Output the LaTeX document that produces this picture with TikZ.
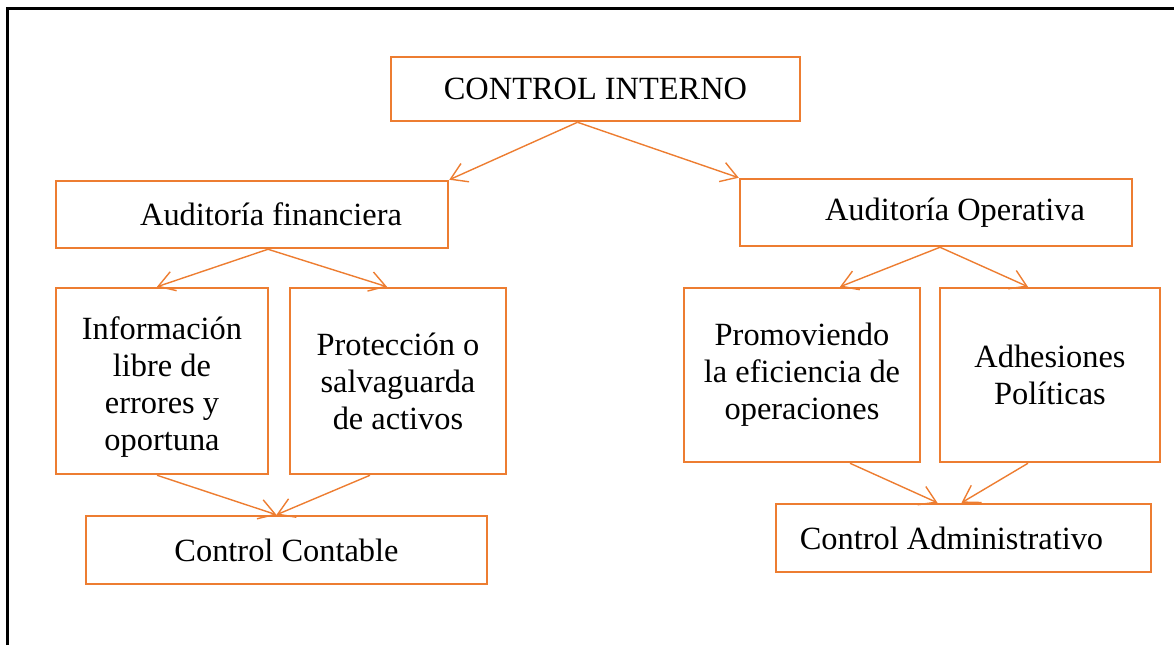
\documentclass[tikz,border=0pt]{standalone}
\usepackage{fontspec}
\setmainfont{Liberation Serif}
\usetikzlibrary{arrows.meta}
\definecolor{boxorange}{HTML}{ED7D31}

\begin{document}
\begin{tikzpicture}[
x=0.5pt,y=-0.5pt,
mybox/.style={
  draw=boxorange,
  line width=1.25pt,
  align=center,
  inner sep=0pt,
  font=\fontsize{16.2pt}{18.5pt}\selectfont
  },
conn/.style={
  color=boxorange,
  line width=0.7pt,
  -{Straight Barb[length=8pt,width=10pt]}
  }
]
\useasboundingbox (0,0) rectangle (1174,645);
\draw[line width=1.5pt] (7,645) -- (7,8) -- (1174,8);
% top level
\node[mybox,minimum width=204.5pt,minimum height=32pt] (ci) at (595.5,89) {CONTROL INTERNO};
% second level
\node[mybox,minimum width=196pt,minimum height=33.5pt] (af) at (252,214.5) {\hspace*{19pt}Auditoría financiera};
\node[mybox,minimum width=196pt,minimum height=33.5pt] (ao) at (936,212.5) {\hspace*{19pt}Auditoría Operativa};
% third level
\node[mybox,minimum width=106pt,minimum height=93pt] (inf) at (162,381) {\raisebox{-3.5pt}[\height][\depth]{\begin{tabular}{@{}c@{}}Información\\libre de\\errores y\\oportuna\end{tabular}}};
\node[mybox,minimum width=108pt,minimum height=93pt] (pro) at (398,381) {Protección o\\salvaguarda\\de activos};
\node[mybox,minimum width=118pt,minimum height=87pt] (prm) at (802,375) {Promoviendo\\la eficiencia de\\operaciones};
\node[mybox,minimum width=110pt,minimum height=87pt] (adh) at (1050,375) {Adhesiones\\Políticas};
% bottom level
\node[mybox,minimum width=200.5pt,minimum height=34pt] (cc) at (286.5,550) {Control Contable};
\node[mybox,minimum width=187.5pt,minimum height=34pt] (cad) at (963.5,538) {Control Administrativo\hspace*{12pt}};
\path[conn]
	([xshift=-9pt]ci.south) edge (af.north east)
	([xshift=-9pt]ci.south) edge (ao.north west)
	([xshift=8pt]af.south) edge ([xshift=-2.5pt]inf.north)
	([xshift=8pt]af.south) edge ([xshift=-5.5pt]pro.north)
	([xshift=2pt]ao.south) edge ([xshift=19pt]prm.north)
	([xshift=2pt]ao.south) edge ([xshift=-11pt]adh.north)
	([xshift=-2.5pt]inf.south) edge ([xshift=-5pt]cc.north)
	([xshift=-14pt]pro.south) edge ([xshift=-5pt]cc.north)
	([xshift=24pt]prm.south) edge ([xshift=-13pt]cad.north)
	([xshift=-11pt]adh.south) edge ([xshift=-1pt]cad.north);
\end{tikzpicture}
\end{document}
